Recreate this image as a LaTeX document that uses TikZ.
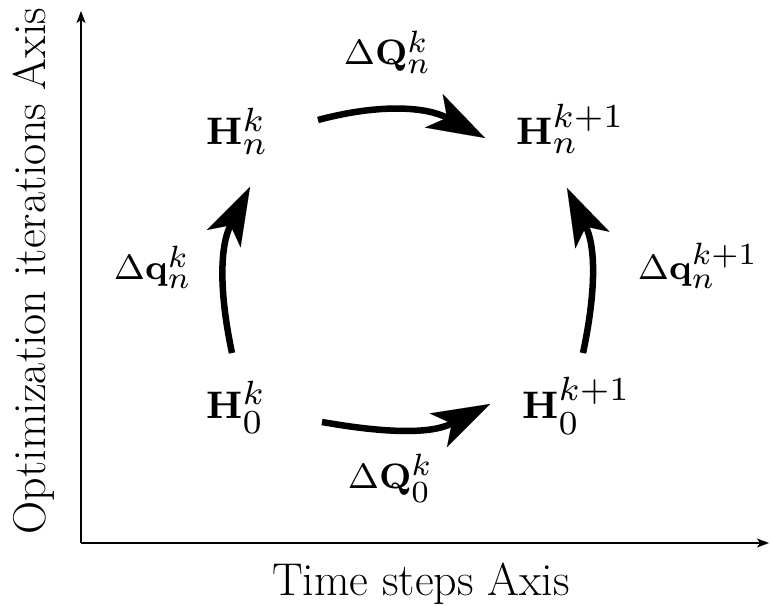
\documentclass[tikz,border=0pt]{standalone}
\usetikzlibrary{arrows.meta}
\DeclareMathSizes{8}{8}{7}{5}
\begin{document}
\begin{tikzpicture}[x=1pt,y=1pt,
  lbl/.style={inner sep=0pt,anchor=base west,font=\fontsize{8}{10}\selectfont,scale=4.4},
  hnode/.style={inner sep=0pt,anchor=base west,font=\fontsize{8}{10}\selectfont,scale=4.8},
  axlbl/.style={inner sep=0pt,anchor=base},
  axis/.style={line width=1.6pt,-{Stealth[length=12pt,width=9pt,inset=3pt]}},
  bigarrow/.style={line width=6.5pt,-{Stealth[length=58pt,width=38pt,inset=15pt,line width=0.01pt]}}]
\useasboundingbox (0,0) rectangle (770,605);
% axes
\coordinate (O) at (81,62);
\coordinate (Ytop) at (81,594);
\coordinate (Xend) at (769,62);
\draw[axis] (O) -- (Ytop);
\draw[axis] (O) -- (Xend);
\node[axlbl,font=\fontsize{46}{54}\selectfont] (xl) at (421,10) {Time steps Axis};
\node[axlbl,rotate=90,font=\fontsize{46}{54}\selectfont] (yl) at (45,334) {Optimization iterations Axis};
% states
\node[hnode] (Hnk) at (205,460) {$\mathbf{H}_n^k$};
\node[hnode] (Hnk1) at (515,460) {$\mathbf{H}_n^{k+1}$};
\node[hnode] (H0k) at (205,187) {$\mathbf{H}_0^k$};
\node[hnode] (H0k1) at (521,187) {$\mathbf{H}_0^{k+1}$};
% labels
\node[lbl] (dqnk) at (113,325) {$\Delta\mathbf{q}_n^k$};
\node[lbl] (dqnk1) at (637,325) {$\Delta\mathbf{q}_n^{k+1}$};
\node[lbl] (dQnk) at (343,540) {$\Delta\mathbf{Q}_n^k$};
\node[lbl] (dQ0k) at (347,117) {$\Delta\mathbf{Q}_0^k$};
% arrow ends
\coordinate (ts) at (318,485);
\coordinate (te) at (485,467);
\coordinate (bs) at (322,183);
\coordinate (be) at (490,201);
\coordinate (ls) at (232,252);
\coordinate (le) at (250,418);
\coordinate (rs) at (583,252);
\coordinate (re) at (567,417);
\draw[bigarrow] (ts) to[out=15,in=152] (te);
\draw[bigarrow] (bs) to[out=-10,in=207] (be);
\draw[bigarrow] (ls) to[out=102,in=243] (le);
\draw[bigarrow] (rs) to[out=78,in=-64] (re);
\end{tikzpicture}
\end{document}
